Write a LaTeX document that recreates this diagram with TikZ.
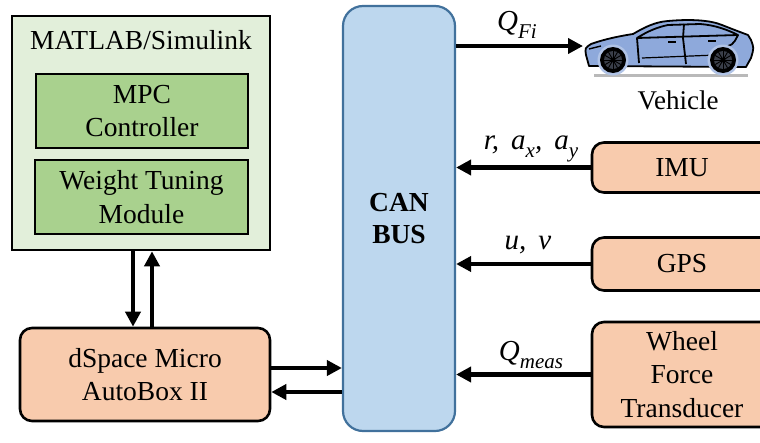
\documentclass[tikz,border=0pt]{standalone}
\usepackage{fontspec}
\setmainfont{Liberation Serif}
\usetikzlibrary{arrows.meta}

\definecolor{simbg}{HTML}{E2EFDA}
\definecolor{simbox}{HTML}{A9D18E}
\definecolor{hwbox}{HTML}{F8CBAD}
\definecolor{busfill}{HTML}{BDD7EE}
\definecolor{busline}{HTML}{41719C}
\definecolor{carblue}{HTML}{8EA9DB}
\definecolor{rimgray}{HTML}{3A3F4A}

% italic symbol with a lowered index
\newcommand{\lbsub}[2]{#1\raisebox{-0.3em}{\fontsize{21}{22}\selectfont #2}}

\begin{document}
\begin{tikzpicture}[x=1pt,y=-1pt,
  txt/.style={font=\fontsize{27.5}{33.5}\selectfont, align=center, inner sep=0pt},
  box/.style={txt, draw=black, line width=2.6pt},
  simouter/.style={box, fill=simbg},
  siminner/.style={box, fill=simbox},
  hw/.style={box, fill=hwbox, rounded corners=12pt},
  bus/.style={txt, draw=busline, line width=2.2pt, fill=busfill, rounded corners=20pt, font=\fontsize{27.5}{32}\selectfont\bfseries},
  sig/.style={font=\fontsize{29}{32}\selectfont\itshape, inner sep=0pt},
  arr/.style={line width=4.5pt, -{Triangle[length=15pt,width=15pt]}},
  carline/.style={draw=black, line width=1.8pt, line join=round}
]
\useasboundingbox (0,0) rectangle (760,442);

% software side
\node[simouter, minimum width=258pt, minimum height=234pt] (matlab) at (141,133) {};
\node[txt] (matlabtitle) at (141,40) {MATLAB/Simulink};
\node[siminner, minimum width=212pt, minimum height=74pt] (mpc) at (142,111) {MPC\\Controller};
\node[siminner, minimum width=213pt, minimum height=74pt] (wtm) at (141.5,197) {Weight Tuning\\Module};

% real-time target
\node[hw, minimum width=250pt, minimum height=93pt] (dspace) at (145,374.5) {dSpace Micro\\AutoBox II};

% bus
\node[bus, minimum width=112pt, minimum height=425pt] (can) at (399,218.5) {CAN\\BUS};

% sensors
\node[hw, minimum width=180pt, minimum height=50pt] (imu) at (682,167.5) {IMU};
\node[hw, minimum width=180pt, minimum height=53pt] (gps) at (682,264) {GPS};
\node[hw, minimum width=180pt, minimum height=105pt] (wft) at (682,374.5) {Wheel\\Force\\Transducer};

% vehicle
\fill[gray!55] (594,74) rectangle (748,77);
\draw[carline, fill=carblue]
  (589,66) -- (586,55) .. controls (585,48) .. (591,44)
  .. controls (605,39) and (620,36) .. (633,34)
  .. controls (645,27) and (655,22) .. (668,21)
  .. controls (690,19) and (710,20) .. (722,25)
  .. controls (732,29) and (740,32) .. (748,35)
  -- (751,40) .. controls (754,48) .. (751,58) -- (746,67) -- cycle;
\draw[carline, fill=carblue]
  (637,38) .. controls (648,31) and (658,27) .. (668,25)
  -- (700,24) .. controls (715,25) and (728,30) .. (738,35) -- cycle;
\draw[carline] (684,24) -- (683,38);
\draw[carline] (637,38) -- (639,63);
\draw[carline] (683,38) -- (686,64);
\draw[carline] (738,35) .. controls (733,45) .. (720,48);
\draw[carline, line width=1.2pt] (642,58) -- (716,55);
\draw[carline, line width=1.4pt] (668,42) -- (676,42);
\draw[carline, line width=1.4pt] (708,41) -- (716,41);
\draw[carline, line width=1.4pt] (589,49) -- (601,46);
\foreach \cx in {613,723}{
  \fill[carblue!70!white] (\cx,60) circle (15.5pt);
  \fill[black] (\cx,60) circle (13pt);
  \fill[rimgray] (\cx,60) circle (9pt);
  \foreach \a in {0,30,...,330}
    \draw[black, line width=0.9pt] (\cx,60) -- ++(\a:9pt);
  \fill[black] (\cx,60) circle (2.5pt);
}
\coordinate (carfront) at (583,46);
\node[txt, font=\fontsize{27}{32}\selectfont] (veh) at (678,100) {Vehicle};

% connections
\draw[arr] (can.east |- carfront) -- (carfront);
\draw[arr] (imu.west) -- (can.east |- imu.west);
\draw[arr] (gps.west) -- (can.east |- gps.west);
\draw[arr] (wft.west) -- (can.east |- wft.west);
\draw[arr] (dspace.east |- 0,368) -- (can.west |- 0,368);
\draw[arr] (can.west |- 0,392) -- (dspace.east |- 0,392);
\draw[arr] (matlab.south -| 133,0) -- (dspace.north -| 133,0);
\draw[arr] (dspace.north -| 152,0) -- (matlab.south -| 152,0);

% signal labels
\node[sig] (lq) at (517,25) {\lbsub{Q}{Fi}};
\node[sig] (limu) at (531,149) {r,\, \lbsub{a}{x},\, \lbsub{a}{y}};
\node[sig] (lgps) at (528,245) {u,\, v};
\node[sig] (lwft) at (531,355) {\lbsub{Q}{meas}};
\end{tikzpicture}
\end{document}
